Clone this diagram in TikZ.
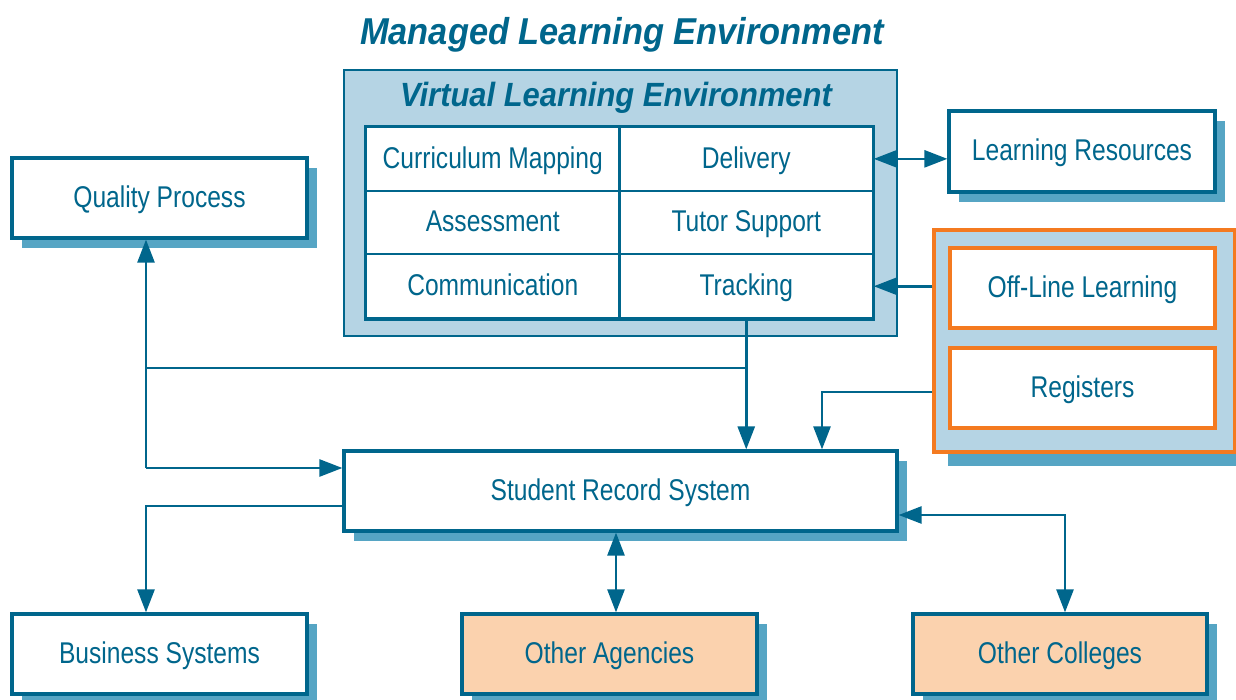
\documentclass[tikz,border=0pt]{standalone}
\usepackage{fontspec}
\setmainfont{Liberation Sans}[FakeStretch=0.82]
\newfontfamily\mletitlefont{Liberation Sans}[FakeStretch=0.92]
\usetikzlibrary{arrows.meta,shadows}
\definecolor{mlemain}{RGB}{0,102,140}
\definecolor{mleshadow}{RGB}{86,165,196}
\definecolor{mlelight}{RGB}{181,212,228}
\definecolor{mleorange}{RGB}{244,122,32}
\definecolor{mlepeach}{RGB}{251,210,174}
\begin{document}
\begin{tikzpicture}[x=0.5pt,y=-0.5pt,
    >={Triangle[length=11.5pt,width=8.5pt]},
    link/.style={draw=mlemain, line width=1.3pt},
    boxtext/.style={text=mlemain, font=\fontsize{15}{17}\selectfont, text height=2.1ex, text depth=0.35ex},
    sysbox/.style={boxtext, draw=mlemain, line width=1.6pt, fill=white,
        minimum width=147.5pt, minimum height=40pt,
        drop shadow={shadow xshift=5pt, shadow yshift=-5pt, fill=mleshadow, opacity=1}},
    extbox/.style={sysbox, fill=mlepeach},
    cellbox/.style={boxtext, draw=mlemain, line width=1pt, fill=white,
        minimum width=126.5pt, minimum height=31.8pt},
    offbox/.style={boxtext, draw=mleorange, line width=1.6pt, fill=white,
        minimum width=132.5pt, minimum height=40pt},
    heading/.style={text=mlemain}]
\useasboundingbox (0,0) rectangle (1236,700);

% Title
\node[heading, font=\mletitlefont\fontsize{18.7}{22}\bfseries\itshape\selectfont] (mletitle) at (622,35) {Managed Learning Environment};

% Virtual learning environment
\node[draw=mlemain, line width=1.3pt, fill=mlelight, minimum width=276.5pt, minimum height=133pt] (vle) at (620.5,203) {};
\node[heading, font=\mletitlefont\fontsize{16.8}{20}\bfseries\itshape\selectfont] (vletitle) at (616,98) {Virtual Learning Environment};
\foreach \c/\r/\name/\txt in {1/1/cm/Curriculum Mapping, 2/1/del/Delivery,
                              1/2/ass/Assessment, 2/2/tut/Tutor Support,
                              1/3/com/Communication, 2/3/trk/Tracking}
  \node[cellbox] (\name) at ({366+(\c-0.5)*253.5},{127+(\r-0.5)*63.7}) {\txt};
\draw[mlemain, line width=1.5pt] (cm.north west) rectangle (trk.south east);

% Outside systems
\node[sysbox] (qp) at (159.5,198) {Quality Process};
\node[sysbox, minimum width=133pt, minimum height=40.5pt] (lr) at (1082,151.5) {Learning Resources};
\node[draw=mleorange, line width=1.6pt, fill=mlelight, minimum width=150.5pt, minimum height=111pt,
      drop shadow={shadow xshift=7pt, shadow yshift=-7pt, fill=mleshadow, opacity=1}] (offline) at (1084.5,341) {};
\node[offbox] (oll) at (1082.5,288) {Off-Line Learning};
\node[offbox] (reg) at (1082.5,388) {Registers};
\node[sysbox, minimum width=276.5pt] (srs) at (620.5,491) {Student Record System};
\node[sysbox] (bs) at (159.5,654) {Business Systems};
\node[extbox] (oa) at (609.5,654) {Other Agencies};
\node[extbox, minimum width=147pt] (oc) at (1060,654) {Other Colleges};

% Turning points
\coordinate (qsplit) at (146,468);
\coordinate (qjoin) at (146,368);
\coordinate (regturn) at (822,392);
\coordinate (bsturn) at (146,506);
\coordinate (oaline) at (616,570);
\coordinate (octurn) at (1065,515);

% Connectors
\draw[link, <->] (del.east) -- (del.east -| lr.west);
\draw[link, ->] (trk.east -| offline.west) -- (trk.east);
\draw[link, ->] (trk.south) -- (trk.south |- srs.north);
\draw[link] (qjoin) -- (qjoin -| trk.south);
\draw[link, ->] (qsplit) -- (qsplit |- qp.south);
\draw[link, ->] (qsplit) -- (qsplit -| srs.west);
\draw[link, ->] (regturn -| offline.west) -- (regturn) -- (regturn |- srs.north);
\draw[link, ->] (bsturn -| srs.west) -- (bsturn) -- (bsturn |- bs.north);
\draw[link, <->] (oaline |- srs.south) -- (oaline |- oa.north);
\draw[link, <->] (octurn -| srs.east) -- (octurn) -- (octurn |- oc.north);
\end{tikzpicture}
\end{document}
